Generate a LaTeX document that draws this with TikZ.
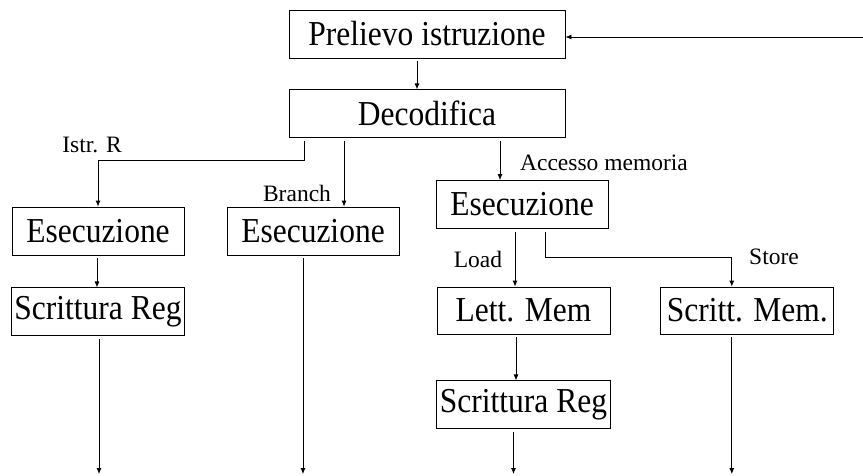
\documentclass[tikz,border=0pt]{standalone}
\usepackage{fontspec}
\setmainfont{Liberation Serif}
\newfontfamily\boxfont{Liberation Serif}[FakeStretch=0.9]
\usepackage{tikz}
\usetikzlibrary{positioning,arrows.meta}

\begin{document}
\begin{tikzpicture}[
x=1pt, y=-1pt,
line width=0.8pt,
arr/.style={-{Latex[length=6pt,width=5pt]}},
box/.style={
draw,
rectangle,
inner sep=0pt,
minimum height=48pt,
font=\boxfont\fontsize{35}{40}\selectfont
},
lbl/.style={inner sep=0pt, font=\fontsize{23.5}{27}\selectfont}
]
\useasboundingbox (0,0) rectangle (863,475);

\node[box, minimum width=276pt] (prelievo) at (427,34) {Prelievo istruzione};
\node[box, minimum width=276pt] (decodifica) [below=31pt of prelievo] {Decodifica};

\node[box, minimum width=172pt] (esecR) at (98,231) {Esecuzione};
\node[box, minimum width=173pt] (scrittR) [below=32pt of esecR] {Scrittura Reg};

\node[box, minimum width=172pt] (esecB) at (313,231) {Esecuzione};

\node[box, minimum width=172pt] (esecM) at (522,204.5) {Esecuzione};
\node[box, minimum width=173pt, minimum height=47pt] (lettM) at (523.5,310.5) {Lett. Mem};
\node[box, minimum width=173pt, minimum height=47pt] (scrittM) [right=50pt of lettM] {Scritt. Mem.};
\node[box, minimum width=174pt] (scrittR2) [below=46pt of lettM] {Scrittura Reg};

\node[lbl] (lblR) at (92,145) {Istr. R};
\node[lbl] (lblB) at (297,193) {Branch};
\node[lbl] (lblA) at (604,163) {Accesso memoria};
\node[lbl] (lblL) at (478,259) {Load};
\node[lbl] (lblS) at (774,257) {Store};

\coordinate (ret) at (863,37);
\coordinate (bot) at (0,474);

\draw[arr] (ret) -- (prelievo.east |- ret);
\draw[arr, shorten <=3pt] ([xshift=-10pt]prelievo.south) -- ([xshift=-10pt]prelievo.south |- decodifica.north);

\draw[arr, shorten <=3pt] ([xshift=-123pt]decodifica.south) -- ++(0,22) -| (esecR.north);
\draw[arr, shorten <=3pt] ([xshift=-83pt]decodifica.south) -- ([xshift=-83pt]decodifica.south |- esecB.north);
\draw[arr, shorten <=3pt] ([xshift=73pt]decodifica.south) -- ([xshift=73pt]decodifica.south |- esecM.north);

\draw[arr, shorten <=3pt] ([xshift=-1pt]esecR.south) -- ([xshift=-1pt]esecR.south |- scrittR.north);
\draw[arr, shorten <=3pt] ([xshift=1pt]scrittR.south) -- ([xshift=1pt]scrittR.south |- bot);

\draw[arr, shorten <=3pt] ([xshift=-10pt]esecB.south) -- ([xshift=-10pt]esecB.south |- bot);

\draw[arr, shorten <=3pt] ([xshift=-7pt]esecM.south) -- ([xshift=-7pt]esecM.south |- lettM.north);
\draw[arr, shorten <=3pt] ([xshift=23pt]esecM.south) -- ++(0,28) -| ([xshift=-15.5pt]scrittM.north);

\draw[arr, shorten <=3pt] ([xshift=-7.5pt]lettM.south) -- ([xshift=-7.5pt]lettM.south |- scrittR2.north);
\draw[arr, shorten <=3pt] ([xshift=-10pt]scrittR2.south) -- ([xshift=-10pt]scrittR2.south |- bot);
\draw[arr, shorten <=3pt] ([xshift=-15.5pt]scrittM.south) -- ([xshift=-15.5pt]scrittM.south |- bot);

\end{tikzpicture}
\end{document}
